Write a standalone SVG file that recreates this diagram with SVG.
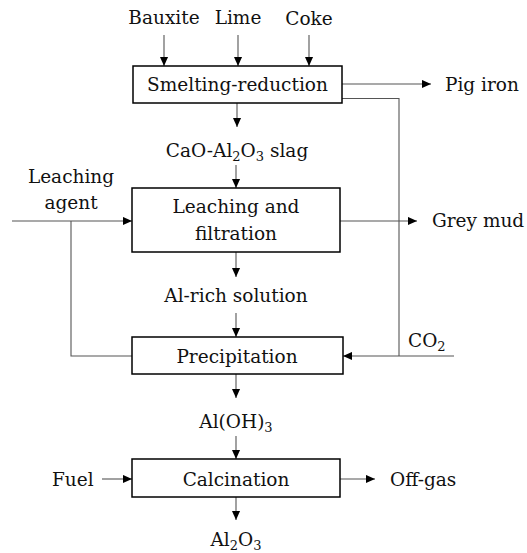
<svg xmlns="http://www.w3.org/2000/svg" width="527" height="553" viewBox="0 0 527 553">
<style>
text{font-family:"DejaVu Serif","Liberation Serif",serif;font-size:18.5px;fill:#111}
.c{text-anchor:middle}
.box{fill:#fff;stroke:#000;stroke-width:1.5}
.ln{fill:none;stroke:#555;stroke-width:1.1}
.sub{font-size:13px}
</style>
<defs>
<marker id="ah" viewBox="0 0 10 10" refX="10" refY="5" markerWidth="9" markerHeight="9" markerUnits="userSpaceOnUse" orient="auto">
<path d="M0,0.5 L10,5 L0,9.5 Z" fill="#000"/>
</marker>
</defs>
<rect width="527" height="553" fill="#fff"/>
<g id="connectors">
<line class="ln" x1="164" y1="35" x2="164" y2="66" marker-end="url(#ah)"/>
<line class="ln" x1="238" y1="35" x2="238" y2="66" marker-end="url(#ah)"/>
<line class="ln" x1="309" y1="35" x2="309" y2="66" marker-end="url(#ah)"/>
<line class="ln" x1="342" y1="84" x2="431" y2="84" marker-end="url(#ah)"/>
<polyline class="ln" points="342,98.5 399,98.5 399,356"/>
<line class="ln" x1="237" y1="103" x2="237" y2="127" marker-end="url(#ah)"/>
<line class="ln" x1="236" y1="165" x2="236" y2="188" marker-end="url(#ah)"/>
<line class="ln" x1="12" y1="221" x2="132" y2="221" marker-end="url(#ah)"/>
<polyline class="ln" points="71,221 71,356 132,356"/>
<line class="ln" x1="340" y1="221" x2="417" y2="221" marker-end="url(#ah)"/>
<line class="ln" x1="236" y1="252" x2="236" y2="277" marker-end="url(#ah)"/>
<line class="ln" x1="236" y1="313" x2="236" y2="337" marker-end="url(#ah)"/>
<line class="ln" x1="454" y1="356" x2="343" y2="356" marker-end="url(#ah)"/>
<line class="ln" x1="236" y1="374" x2="236" y2="398" marker-end="url(#ah)"/>
<line class="ln" x1="236" y1="436" x2="236" y2="459" marker-end="url(#ah)"/>
<line class="ln" x1="102" y1="479" x2="132" y2="479" marker-end="url(#ah)"/>
<line class="ln" x1="340" y1="479" x2="375" y2="479" marker-end="url(#ah)"/>
<line class="ln" x1="236" y1="497" x2="236" y2="520" marker-end="url(#ah)"/>
</g>
<g id="inputs">
<text class="c" x="164" y="24">Bauxite</text>
<text class="c" x="238" y="24">Lime</text>
<text class="c" x="309" y="25">Coke</text>
</g>
<g id="smelting">
<rect class="box" x="133" y="66" width="209" height="37"/>
<text class="c" x="237.5" y="91">Smelting-reduction</text>
</g>
<g id="pig-iron"><text x="445" y="91">Pig iron</text></g>
<g id="slag"><text class="c" x="237" y="157">CaO-Al<tspan class="sub" dy="4">2</tspan><tspan dy="-4">O</tspan><tspan class="sub" dy="4">3</tspan><tspan dy="-4"> slag</tspan></text></g>
<g id="leaching-agent">
<text class="c" x="71" y="183">Leaching</text>
<text class="c" x="71" y="209">agent</text>
</g>
<g id="leaching">
<rect class="box" x="132" y="188" width="208" height="64"/>
<text class="c" x="236" y="213">Leaching and</text>
<text class="c" x="236" y="240">filtration</text>
</g>
<g id="grey-mud"><text x="432" y="227">Grey mud</text></g>
<g id="al-rich"><text class="c" x="236" y="302">Al-rich solution</text></g>
<g id="co2"><text x="408" y="347">CO<tspan class="sub" dy="4">2</tspan></text></g>
<g id="precipitation">
<rect class="box" x="132" y="337" width="211" height="37"/>
<text class="c" x="237" y="363">Precipitation</text>
</g>
<g id="aloh3"><text class="c" x="236" y="428">Al(OH)<tspan class="sub" dy="4">3</tspan></text></g>
<g id="fuel"><text x="52" y="486">Fuel</text></g>
<g id="calcination">
<rect class="box" x="132" y="459" width="208" height="38"/>
<text class="c" x="236" y="486">Calcination</text>
</g>
<g id="off-gas"><text x="390" y="486">Off-gas</text></g>
<g id="al2o3"><text class="c" x="236" y="546">Al<tspan class="sub" dy="4">2</tspan><tspan dy="-4">O</tspan><tspan class="sub" dy="4">3</tspan></text></g>
</svg>
